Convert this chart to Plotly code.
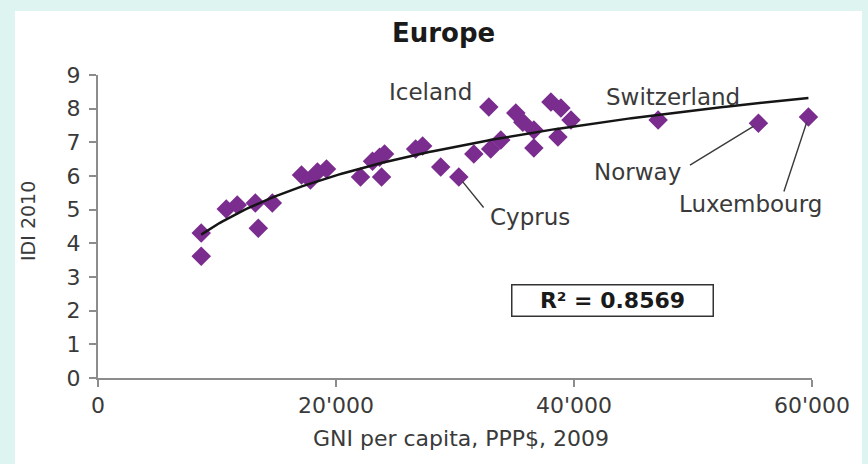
import numpy as np
import plotly.graph_objects as go

# ---- data ----
gni = [8674, 8674, 10780, 11700, 13220, 13470, 14650, 17100, 17850, 18440,
       19200, 22060, 23830, 23070, 23660, 24080, 26690, 27280, 28800, 30320,
       31580, 33000, 33850, 32840, 35110, 35700, 36630, 36630, 38060, 38900,
       39750, 38650, 47070, 55500, 59700]
idi = [3.62, 4.31, 5.02, 5.14, 5.20, 4.45, 5.20, 6.03, 5.88, 6.12,
       6.21, 5.97, 5.97, 6.44, 6.56, 6.65, 6.80, 6.89, 6.27, 5.97,
       6.65, 6.80, 7.07, 8.05, 7.87, 7.60, 7.37, 6.83, 8.20, 8.02,
       7.66, 7.16, 7.66, 7.57, 7.75]
label_index = {"Iceland": 23, "Cyprus": 19, "Switzerland": 32,
               "Norway": 33, "Luxembourg": 34}
x_tick_vals = [0, 20000, 40000, 60000]
x_tick_text = ["0", "20'000", "40'000", "60'000"]
y_tick_vals = [0, 1, 2, 3, 4, 5, 6, 7, 8, 9]
r2_label = "R² = 0.8569"
title_text = "Europe"
x_title = "GNI per capita, PPP$, 2009"
y_title = "IDI 2010"

# logarithmic trend line fitted to the points
b, a = np.polyfit(np.log(gni), idi, 1)
trend_x = np.linspace(min(gni), max(gni), 200)
trend_y = a + b * np.log(trend_x)

FONT = "DejaVu Sans"
GREY = "#8C8C8C"
TXT = "#3A3A3A"
W, H = 868, 464
L, R, T, B = 98, 56, 75, 86
PW, PH = W - L - R, H - T - B


def px_x(p):
    return (p - L) / PW


def px_y(p):
    return (H - B - p) / PH


fig = go.Figure()
fig.add_trace(go.Scatter(
    x=gni, y=idi, mode="markers", cliponaxis=False,
    marker=dict(symbol="diamond", size=15, color="#7B2C8F", line=dict(width=0)),
    hoverinfo="skip"))
fig.add_trace(go.Scatter(
    x=trend_x, y=trend_y, mode="lines", cliponaxis=False,
    line=dict(color="#151515", width=2.5), hoverinfo="skip"))

axis_common = dict(showline=True, linecolor=GREY, linewidth=2,
                   ticks="outside", ticklen=7, tickwidth=2, tickcolor=GREY,
                   showgrid=False, zeroline=False,
                   tickfont=dict(family=FONT, size=22, color=TXT))

fig.update_xaxes(range=[0, 60000], tickvals=x_tick_vals, ticktext=x_tick_text,
                 **axis_common)
fig.update_yaxes(range=[0, 9], tickvals=y_tick_vals, ticklabelstandoff=4,
                 **axis_common)

annotations = [
    dict(xref="paper", yref="paper", x=px_x(443), y=px_y(33),
         text="<b>%s</b>" % title_text, showarrow=False,
         font=dict(family=FONT, size=26, color="#1A1A1A"),
         xanchor="center", yanchor="middle"),
    dict(xref="paper", yref="paper", x=px_x(461), y=px_y(439),
         text=x_title, showarrow=False,
         font=dict(family=FONT, size=22, color=TXT),
         xanchor="center", yanchor="middle"),
    dict(xref="paper", yref="paper", x=px_x(28), y=px_y(221),
         text=y_title, showarrow=False, textangle=-90,
         font=dict(family=FONT, size=19, color=TXT),
         xanchor="center", yanchor="middle"),
    dict(xref="paper", yref="paper", x=px_x(612), y=px_y(300),
         text="<b>%s</b>" % r2_label, showarrow=False,
         font=dict(family=FONT, size=22, color="#1A1A1A"),
         bordercolor="#333333", borderwidth=1.5, borderpad=2,
         bgcolor="white", width=196, height=26,
         xanchor="center", yanchor="middle"),
]

# text offsets (pixels) and leader line tails (pixels) for labelled countries
label_style = {
    "Iceland": dict(dx=-58, dy=15, leader=None),
    "Switzerland": dict(dx=15, dy=23, leader=None),
    "Norway": dict(dx=-121, dy=-49, leader=(-70, 43)),
    "Cyprus": dict(dx=71, dy=-40, leader=(26, 32)),
    "Luxembourg": dict(dx=-58, dy=-87, leader=(-25, 76)),
}
for name, idx in label_index.items():
    st = label_style[name]
    annotations.append(dict(
        x=gni[idx], y=idi[idx], xref="x", yref="y", text=name,
        showarrow=False, xshift=st["dx"], yshift=st["dy"],
        font=dict(family=FONT, size=23, color=TXT),
        xanchor="center", yanchor="middle"))
    if st["leader"] is not None:
        annotations.append(dict(
            x=gni[idx], y=idi[idx], xref="x", yref="y", text="",
            showarrow=True, arrowhead=0, arrowwidth=1.4, arrowcolor="#3A3A3A",
            ax=st["leader"][0], ay=st["leader"][1], standoff=6))

fig.update_layout(
    width=W, height=H,
    margin=dict(l=L, r=R, t=T, b=B),
    paper_bgcolor="#DDF4F1", plot_bgcolor="white",
    showlegend=False,
    annotations=annotations,
    shapes=[dict(type="rect", xref="paper", yref="paper",
                 x0=px_x(15), x1=px_x(862), y0=px_y(475), y1=px_y(11),
                 fillcolor="white", line=dict(width=0), layer="below")],
)

fig.write_html(
    "out.html",
    config={"displayModeBar": False},
    post_script="document.body.style.margin='0';"
                "document.body.style.overflow='hidden';",
)
